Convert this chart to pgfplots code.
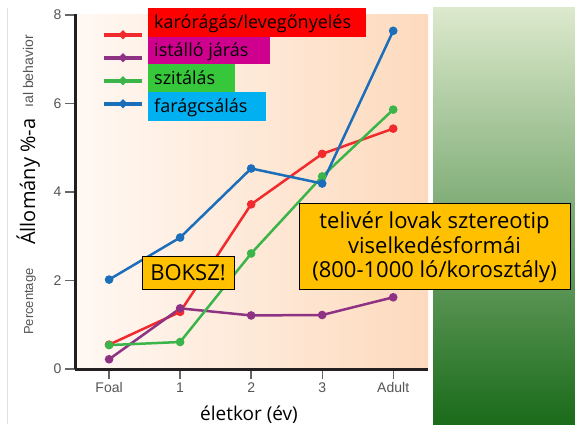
\documentclass[border=0pt]{standalone}
\usepackage{fontspec}
\setmainfont{Open Sans}
\newfontfamily\helv{Liberation Sans}
\usepackage{pgfplots}
\pgfplotsset{compat=1.18}
\definecolor{sred}{HTML}{F02A2D}
\definecolor{spur}{HTML}{8E3384}
\definecolor{sgre}{HTML}{3BB44A}
\definecolor{sblu}{HTML}{1B6FBA}
\definecolor{boxred}{HTML}{FF0000}
\definecolor{boxmag}{HTML}{D0008E}
\definecolor{boxgre}{HTML}{36C83A}
\definecolor{boxcya}{HTML}{00B0F0}
\definecolor{boxora}{HTML}{FFC000}
\definecolor{bgl}{HTML}{FFF8F3}
\definecolor{bgr}{HTML}{FDDABD}
\definecolor{gtop}{HTML}{DCE9CC}
\definecolor{gmid}{HTML}{A3C383}
\definecolor{gbot}{HTML}{1A6B1A}
\definecolor{axblack}{HTML}{231F20}
\definecolor{tickgray}{HTML}{666666}
\definecolor{labgray}{HTML}{555555}
\begin{document}
\begin{tikzpicture}[x=1pt,y=1pt]
\useasboundingbox (0,0) rectangle (575,424);
\fill[white] (0,0) rectangle (575,424);
\draw[black!12, line width=0.8pt] (7,0) -- (7,416);
\shade[top color=gtop, middle color=gmid, bottom color=gbot] (433,0) rectangle (575,416);
\begin{axis}[
  at={(75pt,55pt)}, anchor=south west,
  width=353pt, height=355pt, scale only axis,
  xmin=-0.48, xmax=4.49, ymin=0, ymax=8.02,
  axis x line*=bottom, axis y line*=left,
  axis line style={line width=3pt, color=axblack, -},
  xtick={0,1,2,3,4}, xticklabels={Foal,1,2,3,Adult},
  ytick={0,2,4,6,8},
  tick align=outside, major tick length=10pt,
  tick style={line width=1.3pt, color=tickgray},
  tick label style={font=\helv\fontsize{14}{16}\selectfont, text=labgray},
  /pgf/number format/assume math mode=true,
  axis background/.style={left color=bgl, right color=bgr},
  clip=false,
  legend image code/.code={\draw[#1, line width=4pt, mark size=1.8pt, mark repeat=2, mark phase=2] plot coordinates {(0pt,0pt) (19pt,0pt) (38pt,0pt)};},
  legend style={draw=none, fill=none, at={(0.0765,0.947)}, anchor=north west,
    inner sep=0pt, outer sep=0pt, nodes={inner sep=0pt, outer sep=0pt}, row sep=19pt},
]
\addplot[sred, line width=2.5pt, mark=*, mark size=3pt] coordinates {(0,0.55)(1,1.29)(2,3.72)(3,4.86)(4,5.43)};
\addlegendentry{}
\addplot[spur, line width=2.5pt, mark=*, mark size=3pt] coordinates {(0,0.22)(1,1.37)(2,1.21)(3,1.22)(4,1.62)};
\addlegendentry{}
\addplot[sgre, line width=2.5pt, mark=*, mark size=3pt] coordinates {(0,0.54)(1,0.61)(2,2.61)(3,4.35)(4,5.86)};
\addlegendentry{}
\addplot[sblu, line width=2.5pt, mark=*, mark size=3pt] coordinates {(0,2.02)(1,2.97)(2,4.53)(3,4.19)(4,7.64)};
\addlegendentry{}
\end{axis}
% legend label boxes
\fill[boxred] (148,416) rectangle (366,387);
\fill[boxmag] (148,387) rectangle (270,360);
\fill[boxgre] (148,360) rectangle (235,332);
\fill[boxcya] (148,332) rectangle (266,303);
\node[anchor=base west, inner sep=0pt] at (154,395) {\fontsize{18}{20}\selectfont karórágás/levegőnyelés};
\node[anchor=base west, inner sep=0pt] at (154,367) {\fontsize{18}{20}\selectfont istálló járás};
\node[anchor=base west, inner sep=0pt] at (154,340) {\fontsize{18}{20}\selectfont szitálás};
\node[anchor=base west, inner sep=0pt] at (154,312) {\fontsize{18}{20}\selectfont farágcsálás};
% text boxes
\filldraw[fill=boxora, draw=black, line width=0.8pt] (142,168) rectangle (234,135);
\node[anchor=center, inner sep=0pt] at (188,151.5) {\fontsize{22}{24}\selectfont BOKSZ!};
\filldraw[fill=boxora, draw=black, line width=0.8pt] (299,221) rectangle (570,135);
\node[anchor=base, inner sep=0pt] at (434.5,196) {\fontsize{22}{24}\selectfont telivér lovak sztereotip};
\node[anchor=base, inner sep=0pt] at (434.5,171) {\fontsize{22}{24}\selectfont viselkedésformái};
\node[anchor=base, inner sep=0pt] at (434.5,147) {\fontsize{22}{24}\selectfont (800-1000 ló/korosztály)};
% axis labels
\node[anchor=base, inner sep=0pt] at (249,4) {\fontsize{19}{21}\selectfont életkor (év)};
\node[rotate=90, anchor=base west, inner sep=0pt, text=labgray] at (33,89) {\helv\fontsize{13}{15}\selectfont Percentage};
\node[rotate=90, anchor=base west, inner sep=0pt] at (35,179) {\fontsize{20}{22}\selectfont Állomány \%-a};
\node[rotate=90, anchor=base east, inner sep=0pt, text=labgray] at (33,389) {\helv\fontsize{14}{16}\selectfont ıal behavior};
\end{tikzpicture}
\end{document}
